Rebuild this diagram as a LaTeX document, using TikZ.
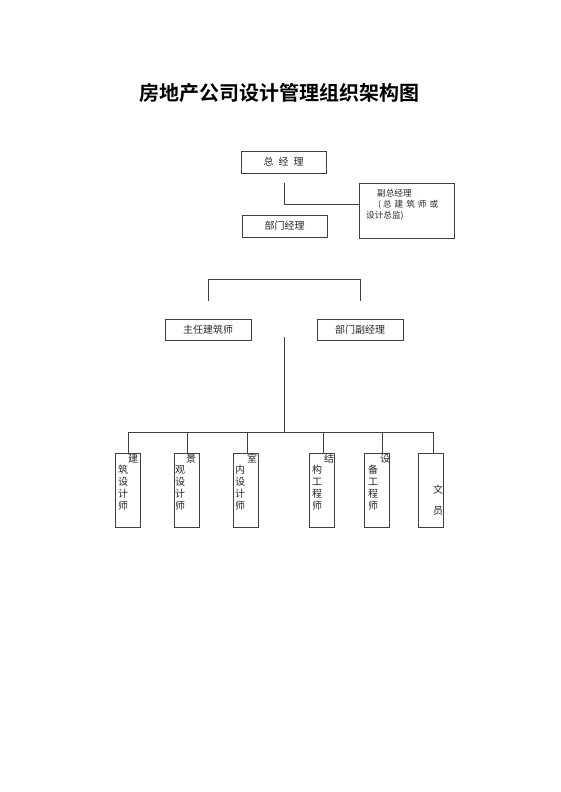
\documentclass[tikz,border=0pt]{standalone}
\usepackage{fontspec}
\newfontfamily\cjk{Noto Sans CJK SC}
\newfontfamily\cjkbold{Noto Sans CJK SC Bold}
\newcommand\colchars[5]{%
  \node[ch] (#1-0) at (#2,459) {#4};
  \foreach \c [count=\i] in {#5} {\node[ch] (#1-\i) at (#3,{458+12*\i}) {\c};}
}
\begin{document}
\begin{tikzpicture}[x=1pt,y=-1pt,
  line/.style={draw=black!75,line width=0.9pt},
  box/.style={line,rectangle,inner sep=0pt,font=\cjk\fontsize{10}{12}\selectfont,text=black!85},
  ch/.style={inner sep=0pt,font=\cjk\fontsize{10}{12}\selectfont,text=black!85},
  small/.style={inner sep=0pt,anchor=west,font=\cjk\fontsize{8.6}{10}\selectfont,text=black!85}]
\path[fill=white] (0,0) rectangle (560,792);
\node[font=\cjkbold\fontsize{20}{24}\selectfont] (title) at (279,93) {房地产公司设计管理组织架构图};

\node[box,minimum width=85,minimum height=22] (zjl) at (283.5,162) {总\hspace{5pt}经\hspace{5pt}理\hspace{6pt}};
\node[box,minimum width=85,minimum height=22] (bmjl) at (284.5,226) {部门经理\hspace{13pt}};
\node[box,minimum width=95,minimum height=55] (fzjl) at (406.5,210.5) {};
\node[small] (f1) at (377,193) {副总经理};
\node[small] (f2) at (378,204.5) {(\hspace{2pt}总\hspace{3pt}建\hspace{3pt}筑\hspace{3pt}师\hspace{3pt}或};
\node[small] (f3) at (366,215.5) {设计总监)};

\node[box,minimum width=86,minimum height=21] (zr) at (208,329.5) {主任建筑师};
\node[box,minimum width=86,minimum height=21] (bf) at (360,329.5) {部门副经理};

\foreach \n/\x in {b1/127.5,b2/186.5,b3/245.5,b4/321.5,b5/377,b6/431}
  \node[box,minimum width=25,minimum height=74] (\n) at (\x,490) {};

\colchars{t1}{133}{123}{建}{筑,设,计,师}
\colchars{t2}{191}{180}{景}{观,设,计,师}
\colchars{t3}{252}{240}{室}{内,设,计,师}
\colchars{t4}{329}{317}{结}{构,工,程,师}
\colchars{t5}{385}{373}{设}{备,工,程,师}
\node[ch] (t6a) at (438,490) {文};
\node[ch] (t6b) at (438,511) {员};

% connectors
\coordinate (a1) at (284,183);
\coordinate (a2) at (284,204);
\draw[line] (a1) -- (a2) -- (fzjl.west |- a2);

\coordinate (k1) at (208,301);
\coordinate (k2) at (208,279);
\coordinate (k3) at (360,279);
\coordinate (k4) at (360,301);
\draw[line] (k1) -- (k2) -- (k3) -- (k4);

\coordinate (m1) at (284,337);
\coordinate (m2) at (284,432);
\draw[line] (m1) -- (m2);
\coordinate (hl) at (128,432);
\coordinate (hr) at (433,432);
\draw[line] (hl) -- (hr);
\foreach \n/\x in {b1/128,b2/187,b3/247,b4/323,b5/382,b6/433}
  \draw[line] (\x,432) -- (\x,453);
\end{tikzpicture}
\end{document}
